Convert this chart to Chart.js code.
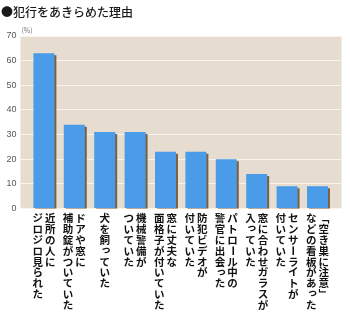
<!DOCTYPE html>
<html lang="ja">
<head>
<meta charset="utf-8">
<script src="https://cdn.jsdelivr.net/npm/chart.js@4.4.1/dist/chart.umd.min.js"></script>
<style>
  html, body { margin:0; padding:0; background:#fff; }
  canvas { display:block; }
</style>
</head>
<body>
<canvas id="chart" width="350" height="328"></canvas>
<script>
/* ─── data ─── */
const title = '●犯行をあきらめた理由';
const unitLabel = '(%)';
// each label: vertical columns, read right → left
const reasons = [
  ['近所の人に', 'ジロジロ見られた'],
  ['ドアや窓に', '補助錠がついていた'],
  ['犬を飼っていた'],
  ['機械警備が', 'ついていた'],
  ['窓に丈夫な', '面格子が付いていた'],
  ['防犯ビデオが', '付いていた'],
  ['パトロール中の', '警官に出会った'],
  ['窓に合わせガラスが', '入っていた'],
  ['センサーライトが', '付いていた'],
  ['「空き巣に注意」', 'などの看板があった'],
];
const percents = [63, 34, 31, 31, 23, 23, 20, 14, 9, 9];
const yMin = 0, yMax = 70, yStep = 10;

/* ─── styles ─── */
const BAR = '#4a9be8';
const SHADOW = '#7a6142';
const PLOT_BG = '#e6dccf';
const GRID = 'rgba(250,245,238,0.9)';
const CJK = '"Noto Sans CJK JP", "Noto Sans", sans-serif';

const ROTATE = 'ー－「」';
const SMALL = 'っッゃゅょャュョぁぃぅぇぉァィゥェォ';

function drawVertical(ctx, text, cx, top, pitch) {
  let y = top + pitch / 2;
  for (const ch of text) {
    ctx.save();
    if (ROTATE.includes(ch)) {
      ctx.translate(cx, y);
      ctx.rotate(Math.PI / 2);
      ctx.fillText(ch, 0, 0);
    } else if (SMALL.includes(ch)) {
      ctx.fillText(ch, cx + 1.2, y - 1.8);
    } else {
      ctx.fillText(ch, cx, y);
    }
    ctx.restore();
    y += pitch;
  }
}

const plotBackground = {
  id: 'plotBackground',
  beforeDraw(chart) {
    const { ctx, chartArea: a } = chart;
    ctx.save();
    ctx.fillStyle = PLOT_BG;
    ctx.fillRect(a.left, a.top, a.right - a.left, a.bottom - a.top);
    ctx.restore();
  },
};

const barShadow = {
  id: 'barShadow',
  beforeDatasetsDraw(chart) {
    const ctx = chart.ctx;
    ctx.save();
    ctx.shadowColor = SHADOW;
    ctx.shadowOffsetX = 2;
    ctx.shadowOffsetY = 2;
    ctx.shadowBlur = 0;
  },
  afterDatasetsDraw(chart) {
    chart.ctx.restore();
  },
};

const textLayer = {
  id: 'textLayer',
  afterDraw(chart) {
    const { ctx, chartArea: a } = chart;
    const x = chart.scales.x;
    ctx.save();

    // title
    ctx.fillStyle = '#1a1a1a';
    ctx.font = `500 12px ${CJK}`;
    ctx.textAlign = 'left';
    ctx.textBaseline = 'middle';
    ctx.fillText(title, 1, 12);

    // unit
    ctx.fillStyle = '#777';
    ctx.font = `7px ${CJK}`;
    ctx.fillText(unitLabel, a.left + 1, a.top - 6);

    // category labels, vertical
    ctx.fillStyle = '#111';
    ctx.font = `bold 10.5px ${CJK}`;
    ctx.textAlign = 'center';
    ctx.textBaseline = 'middle';
    const pitch = 10.8, gap = 12.5, top = a.bottom + 4.5;
    reasons.forEach((cols, i) => {
      const cx = x.getPixelForValue(i);
      const n = cols.length;
      cols.forEach((col, k) => {
        drawVertical(ctx, col, cx + ((n - 1) / 2 - k) * gap, top, pitch);
      });
    });
    ctx.restore();
  },
};

new Chart(document.getElementById('chart'), {
  type: 'bar',
  data: {
    datasets: [{
      data: percents.map((v, i) => ({ x: i, y: v })),
      backgroundColor: BAR,
      borderWidth: 0,
      categoryPercentage: 1,
      barPercentage: 0.69,
    }],
  },
  options: {
    responsive: false,
    animation: false,
    layout: { padding: { top: 36, right: 8.5, bottom: 119.5, left: 0 } },
    plugins: { legend: { display: false }, tooltip: { enabled: false }, title: { display: false } },
    scales: {
      x: {
        type: 'linear', min: -0.77, max: 9.79, offset: false,
        display: false,
      },
      y: {
        min: yMin, max: yMax,
        afterFit(scale) { scale.width = 20.5; },
        border: { display: false },
        grid: { color: GRID, lineWidth: 1, drawTicks: false },
        ticks: {
          stepSize: yStep, padding: 4,
          color: '#555', font: { family: 'Arial, "Liberation Sans", sans-serif', size: 9 },
        },
      },
    },
  },
  plugins: [plotBackground, barShadow, textLayer],
});
</script>
</body>
</html>
